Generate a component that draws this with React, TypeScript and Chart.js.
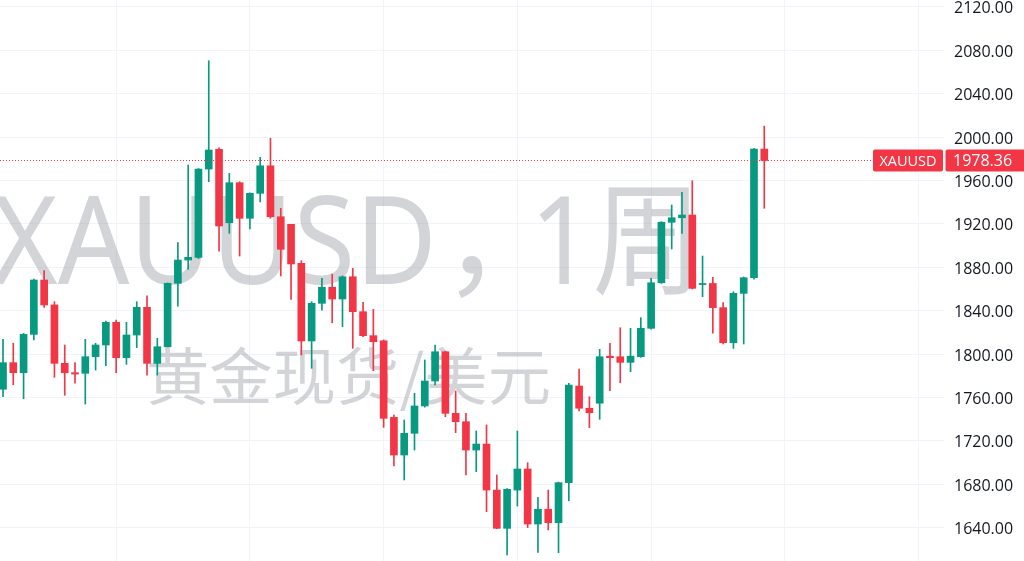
import React, { useEffect, useRef } from "react";
import { Chart, registerables } from "chart.js";

Chart.register(...registerables);

// Weekly XAUUSD candles
const opens = [
  1767.5, 1792.0, 1782.8, 1818.1, 1868.2, 1845.2, 1791.4, 1782.8, 1782.2, 1797.5,
  1808.3, 1829.2, 1796.6, 1817.5, 1843.0, 1791.4, 1806.7, 1865.2, 1886.6, 1889.1,
  1970.5, 1988.7, 1921.0, 1957.9, 1925.1, 1948.1, 1973.5, 1926.5, 1919.5, 1883.6,
  1812.0, 1846.7, 1861.5, 1850.7, 1871.2, 1839.0, 1816.9, 1812.2, 1741.6, 1706.9,
  1726.9, 1752.1, 1775.1, 1802.1, 1745.3, 1737.6, 1711.5, 1717.0, 1674.6, 1639.3,
  1674.6, 1694.0, 1643.3, 1656.9, 1644.5, 1681.4, 1770.5, 1750.0, 1754.6, 1798.0,
  1797.5, 1792.3, 1797.5, 1823.7, 1865.7, 1921.4, 1925.6, 1928.1, 1864.0, 1865.0,
  1842.7, 1810.4, 1855.9, 1870.3, 1988.9,
];
const highs = [
  1813.5, 1809.9, 1819.0, 1869.0, 1876.8, 1848.2, 1808.3, 1792.0, 1813.5, 1809.9,
  1830.4, 1831.3, 1829.2, 1848.2, 1853.7, 1814.5, 1865.5, 1902.6, 1974.2, 1971.0,
  2070.3, 1990.1, 1966.5, 1958.8, 1948.5, 1981.3, 1998.8, 1934.3, 1919.5, 1886.0,
  1848.2, 1869.8, 1873.7, 1872.0, 1879.0, 1847.6, 1841.2, 1813.0, 1743.8, 1739.2,
  1763.8, 1794.5, 1808.3, 1802.6, 1765.9, 1745.3, 1729.0, 1734.6, 1688.5, 1676.0,
  1729.0, 1699.8, 1667.9, 1674.6, 1682.0, 1773.0, 1786.2, 1760.6, 1804.3, 1809.9,
  1824.2, 1823.7, 1833.5, 1869.8, 1922.0, 1937.3, 1949.0, 1959.7, 1890.3, 1870.7,
  1847.3, 1857.4, 1871.0, 1989.6, 2010.1,
];
const lows = [
  1760.6, 1771.7, 1758.8, 1812.9, 1843.0, 1778.5, 1761.9, 1773.0, 1753.9, 1785.2,
  1789.2, 1782.8, 1790.5, 1805.8, 1780.6, 1780.6, 1806.5, 1844.2, 1878.1, 1888.0,
  1958.8, 1894.9, 1911.2, 1890.3, 1915.2, 1940.1, 1925.1, 1871.9, 1850.4, 1799.1,
  1786.8, 1840.5, 1828.8, 1825.2, 1805.2, 1816.0, 1784.6, 1732.4, 1696.8, 1683.9,
  1711.5, 1751.0, 1771.4, 1742.2, 1727.5, 1688.5, 1691.5, 1654.6, 1639.0, 1614.7,
  1659.9, 1640.0, 1617.2, 1637.8, 1616.9, 1664.7, 1747.5, 1732.1, 1739.8, 1766.2,
  1773.5, 1783.7, 1797.0, 1823.0, 1865.0, 1896.8, 1911.2, 1860.0, 1852.8, 1819.1,
  1809.2, 1805.2, 1809.2, 1869.0, 1934.3,
];
const closes = [
  1792.0, 1782.8, 1818.1, 1868.2, 1845.2, 1791.4, 1782.8, 1781.5, 1797.5, 1808.3,
  1829.2, 1796.6, 1817.5, 1843.0, 1791.4, 1806.7, 1865.2, 1886.6, 1889.1, 1970.5,
  1988.0, 1918.0, 1957.9, 1925.1, 1948.1, 1973.5, 1926.5, 1896.5, 1883.0, 1812.0,
  1846.7, 1861.5, 1850.7, 1871.2, 1839.0, 1816.9, 1811.3, 1740.7, 1706.9, 1726.9,
  1752.1, 1775.1, 1802.1, 1745.3, 1737.6, 1711.5, 1717.0, 1674.6, 1639.3, 1675.3,
  1694.0, 1643.3, 1656.9, 1644.5, 1681.4, 1771.4, 1750.0, 1745.9, 1797.5, 1796.6,
  1792.3, 1798.0, 1823.7, 1865.7, 1921.4, 1925.6, 1928.1, 1860.5, 1865.0, 1842.7,
  1810.4, 1855.9, 1870.3, 1988.9, 1978.36,
];

// vertical grid lines (time axis marks), in candle index units
const timeGridIndices = [11, 24, 37, 50, 63, 76, 89];
const priceStep = 40;

const symbol = "XAUUSD";
const watermarkSymbol = "XAUUSD";
const watermarkComma = "，";
const watermarkInterval = "1周";
const watermarkSub = "黄金现货/美元";

const UP = "#089981";
const DOWN = "#F23645";
const GRID = "#f0f3fa";

function roundRect(ctx: CanvasRenderingContext2D, x: number, y: number, w: number, h: number, r: number) {
  ctx.beginPath();
  ctx.moveTo(x + r, y);
  ctx.lineTo(x + w - r, y);
  ctx.quadraticCurveTo(x + w, y, x + w, y + r);
  ctx.lineTo(x + w, y + h - r);
  ctx.quadraticCurveTo(x + w, y + h, x + w - r, y + h);
  ctx.lineTo(x + r, y + h);
  ctx.quadraticCurveTo(x, y + h, x, y + h - r);
  ctx.lineTo(x, y + r);
  ctx.quadraticCurveTo(x, y, x + r, y);
  ctx.closePath();
}

function drawFitted(
  ctx: CanvasRenderingContext2D,
  text: string,
  font: string,
  x0: number,
  x1: number,
  y: number,
  baseline: CanvasTextBaseline
) {
  ctx.save();
  ctx.font = font;
  ctx.textAlign = "left";
  ctx.textBaseline = baseline;
  const w = ctx.measureText(text).width || 1;
  ctx.translate(x0, y);
  ctx.scale((x1 - x0) / w, 1);
  ctx.fillText(text, 0, 0);
  ctx.restore();
}

export default function App() {
  const ref = useRef<HTMLCanvasElement | null>(null);

  useEffect(() => {
    if (!ref.current) return;
    const idx = opens.map((_, i) => i);
    const colors = idx.map((i) => (closes[i] >= opens[i] ? UP : DOWN));
    const lastPrice = closes[closes.length - 1];

    const watermark = {
      id: "watermark",
      beforeDatasetsDraw(chart: any) {
        const { ctx, chartArea } = chart;
        ctx.save();
        ctx.beginPath();
        ctx.rect(chartArea.left, chartArea.top, chartArea.width, chartArea.height);
        ctx.clip();
        ctx.fillStyle = "rgba(149,152,161,0.42)";
        const big = '122px "Noto Sans", "Noto Sans CJK SC"';
        drawFitted(ctx, watermarkSymbol, big, -8, 437, 284, "alphabetic");
        ctx.font = '122px "Noto Sans CJK SC"';
        ctx.textBaseline = "alphabetic";
        ctx.textAlign = "left";
        ctx.fillText(watermarkComma, 442, 284);
        drawFitted(ctx, watermarkInterval, big, 530, 702, 284, "alphabetic");
        drawFitted(ctx, watermarkSub, '62px "Noto Sans CJK SC"', 146, 551, 376, "middle");
        ctx.restore();
      },
    };

    const priceTag = {
      id: "priceTag",
      afterDatasetsDraw(chart: any) {
        const { ctx, chartArea } = chart;
        const y = chart.scales.y.getPixelForValue(lastPrice);
        ctx.save();
        ctx.strokeStyle = DOWN;
        ctx.lineWidth = 1;
        ctx.setLineDash([1, 2]);
        ctx.beginPath();
        ctx.moveTo(chartArea.left, Math.round(y) + 0.5);
        ctx.lineTo(chartArea.right, Math.round(y) + 0.5);
        ctx.stroke();
        ctx.restore();
      },
      afterDraw(chart: any) {
        const { ctx, chartArea, width } = chart;
        const y = chart.scales.y.getPixelForValue(lastPrice);
        const h = 22;
        ctx.save();
        ctx.fillStyle = DOWN;
        roundRect(ctx, chartArea.right - 71, y - h / 2, 70, h, 2);
        ctx.fill();
        roundRect(ctx, chartArea.right + 1.5, y - h / 2, width - chartArea.right + 2, h, 2);
        ctx.fill();
        ctx.fillStyle = "#ffffff";
        ctx.textBaseline = "middle";
        ctx.font = '14.5px "Open Sans"';
        ctx.textAlign = "center";
        ctx.fillText(symbol, chartArea.right - 36, y + 1);
        ctx.font = '16px "Open Sans"';
        ctx.textAlign = "left";
        ctx.fillText(lastPrice.toFixed(2), chartArea.right + 9, y + 1);
        ctx.restore();
      },
    };

    const chart = new Chart(ref.current, {
      type: "bar",
      data: {
        datasets: [
          {
            label: "body",
            data: idx.map((i) => ({ x: i, y: [opens[i], closes[i]] })) as any,
            backgroundColor: colors,
            borderWidth: 0,
            borderSkipped: false,
            barThickness: 7,
            minBarLength: 1,
            grouped: false,
            order: 0,
          } as any,
          {
            label: "wick",
            data: idx.map((i) => ({ x: i, y: [lows[i], highs[i]] })) as any,
            backgroundColor: colors,
            borderWidth: 0,
            borderSkipped: false,
            barThickness: 1,
            grouped: false,
            order: 1,
          } as any,
        ],
      },
      options: {
        animation: false,
        responsive: true,
        maintainAspectRatio: false,
        events: [],
        layout: { padding: 0 },
        plugins: {
          legend: { display: false },
          tooltip: { enabled: false },
          title: { display: false },
        },
        scales: {
          x: {
            type: "linear",
            min: -0.2916,
            max: 91.47,
            offset: false,
            grid: { color: GRID, drawTicks: false, offset: false },
            border: { display: false },
            ticks: { display: false },
            afterBuildTicks: (s: any) => {
              s.ticks = timeGridIndices.map((v) => ({ value: v }));
            },
            afterFit: (s: any) => {
              s.height = 0;
              s.paddingLeft = 0;
              s.paddingRight = 0;
            },
          } as any,
          y: {
            type: "linear",
            position: "right",
            min: 1609.2,
            max: 2126.3,
            grid: { color: GRID, drawTicks: false },
            border: { display: false },
            ticks: {
              stepSize: priceStep,
              includeBounds: false,
              padding: 10,
              labelOffset: 2,
              color: "#131722",
              font: { family: '"Open Sans"', size: 16 },
              callback: (v: any) => Number(v).toFixed(2),
            },
            afterFit: (s: any) => {
              s.width = 80;
              s.paddingTop = 0;
              s.paddingBottom = 0;
            },
          } as any,
        },
      },
      plugins: [watermark, priceTag],
    });

    return () => chart.destroy();
  }, []);

  return (
    <div
      style={{
        position: "fixed",
        left: 0,
        top: 0,
        width: 1024,
        height: 561,
        background: "#ffffff",
      }}
    >
      <canvas ref={ref} />
    </div>
  );
}
